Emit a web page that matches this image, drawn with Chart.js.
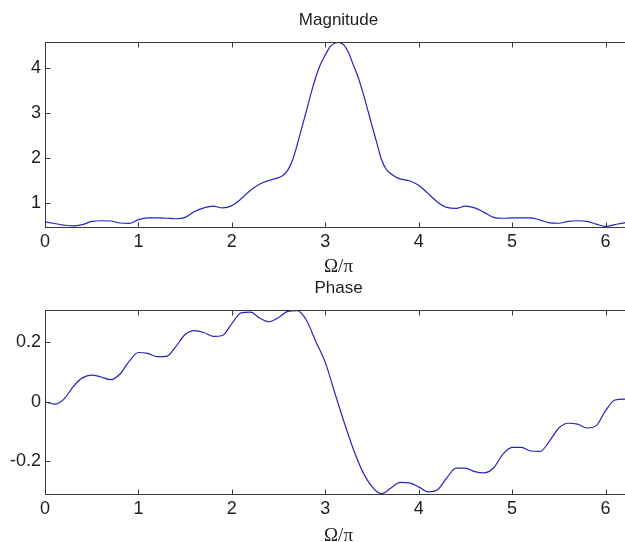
<!DOCTYPE html>
<html>
<head>
<meta charset="utf-8">
<script src="https://cdn.jsdelivr.net/npm/chart.js"></script>
<style>
  html, body { margin: 0; padding: 0; background: #fff; overflow: hidden; width: 625px; height: 542px; }
  .plot { position: absolute; left: 0; width: 677px; height: 290px; }
  #magPlot { top: 0; }
  #phasePlot { top: 268px; }
</style>
</head>
<body>
<div class="plot" id="magPlot"><canvas id="magChart"></canvas></div>
<div class="plot" id="phasePlot"><canvas id="phaseChart"></canvas></div>
<script>
"use strict";

// frequency samples (x) and |H|
const omegaMag = [
  0, 0.1, 0.2, 0.3, 0.4, 0.5, 0.6, 0.7, 0.8, 0.9,
  1.0, 1.1, 1.2, 1.3, 1.4, 1.5, 1.6, 1.7, 1.8, 1.9,
  2.0, 2.1, 2.2, 2.3, 2.4, 2.5,
  2.55, 2.6, 2.65, 2.7, 2.75, 2.8, 2.85, 2.9, 2.95, 3.0, 3.05, 3.1,
  3.14,
  3.2, 3.25, 3.3, 3.35, 3.4, 3.45, 3.5, 3.55, 3.6, 3.65, 3.7, 3.75, 3.8,
  3.9, 4.0, 4.1, 4.2, 4.3, 4.4, 4.5, 4.6, 4.7, 4.8,
  4.9, 5.0, 5.1, 5.2, 5.3, 5.4, 5.5, 5.6, 5.7, 5.8,
  5.9, 6.0, 6.1, 6.2,
  6.28
];
const magnitude = [
  0.59, 0.555, 0.52, 0.50, 0.53, 0.60, 0.615, 0.61, 0.565, 0.555,
  0.64, 0.68, 0.68, 0.67, 0.66, 0.69, 0.82, 0.90, 0.94, 0.90,
  0.95, 1.10, 1.29, 1.43, 1.51, 1.57,
  1.62, 1.74, 1.96, 2.30, 2.68, 3.06, 3.45, 3.80, 4.08, 4.28, 4.46, 4.54,
  4.56,
  4.50, 4.33, 4.06, 3.80, 3.47, 3.10, 2.72, 2.35, 1.98, 1.76, 1.66, 1.59, 1.54,
  1.50, 1.40, 1.22, 1.03, 0.91, 0.89, 0.94, 0.90, 0.80, 0.69,
  0.67, 0.68, 0.68, 0.68, 0.63, 0.57, 0.56, 0.60, 0.615, 0.60,
  0.54, 0.49, 0.53, 0.57,
  0.59
];

// frequency samples and phase
const omegaPhase = [
  0, 0.1, 0.2, 0.3, 0.4, 0.5, 0.6, 0.7, 0.8, 0.9,
  1.0, 1.1, 1.2, 1.3, 1.4, 1.5, 1.6, 1.7, 1.8, 1.9,
  2.0, 2.1, 2.2, 2.3, 2.4, 2.5, 2.6, 2.7, 2.8, 2.9,
  3.0, 3.1, 3.2, 3.3, 3.4, 3.5, 3.6, 3.7, 3.8, 3.9,
  4.0, 4.1, 4.2, 4.3, 4.4, 4.5, 4.6, 4.7, 4.8, 4.9,
  5.0, 5.1, 5.2, 5.3, 5.4, 5.5, 5.6, 5.7, 5.8, 5.9,
  6.0, 6.1, 6.2, 6.28
];
const phase = [
  0.000, -0.008, 0.008, 0.050, 0.080, 0.089, 0.083, 0.074, 0.092, 0.135,
  0.165, 0.162, 0.151, 0.152, 0.185, 0.225, 0.238, 0.232, 0.219, 0.222,
  0.262, 0.298, 0.300, 0.280, 0.268, 0.282, 0.303, 0.305, 0.272, 0.201,
  0.132, 0.032, -0.067, -0.158, -0.234, -0.284, -0.308, -0.290, -0.270, -0.272,
  -0.285, -0.302, -0.295, -0.255, -0.222, -0.222, -0.234, -0.238, -0.222, -0.176,
  -0.153, -0.153, -0.165, -0.166, -0.132, -0.088, -0.072, -0.075, -0.088, -0.080,
  -0.030, 0.006, 0.009, 0.004
];

const xTicks = [0, 1, 2, 3, 4, 5, 6];
const magTicks = [1, 2, 3, 4];
const phaseTicks = [-0.2, 0, 0.2];

const textColor = "#1e1e1e";
const axisColor = "#3a3a3a";
const lineColor = "rgb(36, 36, 190)";
const sans = "'Liberation Sans', Arial, sans-serif";

// matlab style box with inward tick marks
const boxTicks = {
  id: "boxTicks",
  afterDraw(chart) {
    const { ctx, chartArea: a, scales } = chart;
    const l = Math.round(a.left) + 0.5;
    const r = Math.round(a.right) + 0.5;
    const t = Math.round(a.top) + 0.5;
    const b = Math.round(a.bottom) + 0.5;
    const len = 5;
    ctx.save();
    ctx.strokeStyle = axisColor;
    ctx.lineWidth = 1;
    ctx.strokeRect(l, t, r - l, b - t);
    ctx.beginPath();
    scales.x.ticks.forEach((tk) => {
      const px = Math.round(scales.x.getPixelForValue(tk.value)) + 0.5;
      ctx.moveTo(px, b);
      ctx.lineTo(px, b - len);
      ctx.moveTo(px, t);
      ctx.lineTo(px, t + len);
    });
    scales.y.ticks.forEach((tk) => {
      const py = Math.round(scales.y.getPixelForValue(tk.value)) + 0.5;
      ctx.moveTo(l, py);
      ctx.lineTo(l + len, py);
      ctx.moveTo(r, py);
      ctx.lineTo(r - len, py);
    });
    ctx.stroke();
    ctx.restore();
  },
};

function makeChart(canvasId, title, xs, ys, yMin, yMax, yTicks, xAxisHeight, xTitlePad) {
  const ctx = document.getElementById(canvasId).getContext("2d");
  return new Chart(ctx, {
    type: "line",
    data: {
      datasets: [
        {
          data: xs.map((x, i) => ({ x: x, y: ys[i] })),
          borderColor: lineColor,
          borderWidth: 1.2,
          pointRadius: 0,
          fill: false,
          cubicInterpolationMode: "monotone",
        },
      ],
    },
    options: {
      responsive: true,
      maintainAspectRatio: false,
      animation: false,
      devicePixelRatio: 1,
      layout: { padding: 0 },
      plugins: {
        legend: { display: false },
        tooltip: { enabled: false },
        title: {
          display: true,
          text: title,
          color: textColor,
          font: { family: sans, size: 17, weight: "normal" },
          padding: { top: 10, bottom: 12 },
        },
      },
      scales: {
        x: {
          type: "linear",
          min: 0,
          max: 6.2832,
          afterBuildTicks: (s) => { s.ticks = xTicks.map((v) => ({ value: v })); },
          afterFit: (s) => { s.height = xAxisHeight; },
          grid: { display: false, drawTicks: false },
          border: { display: false },
          ticks: {
            color: textColor,
            font: { family: sans, size: 18 },
            padding: 4,
            maxRotation: 0,
            autoSkip: false,
          },
          title: {
            display: true,
            text: "Ω/π",
            color: textColor,
            font: { family: "'Liberation Serif', 'Times New Roman', serif", size: 19 },
            padding: { top: 0, bottom: xTitlePad },
          },
        },
        y: {
          type: "linear",
          min: yMin,
          max: yMax,
          afterBuildTicks: (s) => { s.ticks = yTicks.map((v) => ({ value: v })); },
          afterFit: (s) => { s.width = 45; },
          grid: { display: false, drawTicks: false },
          border: { display: false },
          ticks: {
            color: textColor,
            font: { family: sans, size: 18 },
            padding: 4,
            callback: (v) => String(v),
          },
        },
        // empty right axis, keeps the title centred over the axes box
        yRight: {
          type: "linear",
          position: "right",
          min: yMin,
          max: yMax,
          afterFit: (s) => { s.width = 45; },
          grid: { display: false, drawTicks: false },
          border: { display: false },
          ticks: { display: false },
        },
      },
    },
    plugins: [boxTicks],
  });
}

makeChart("magChart", "Magnitude", omegaMag, magnitude, 0.477, 4.56, magTicks, 63, 12);
makeChart("phaseChart", "Phase", omegaPhase, phase, -0.309, 0.306, phaseTicks, 64, 11);
</script>
</body>
</html>
